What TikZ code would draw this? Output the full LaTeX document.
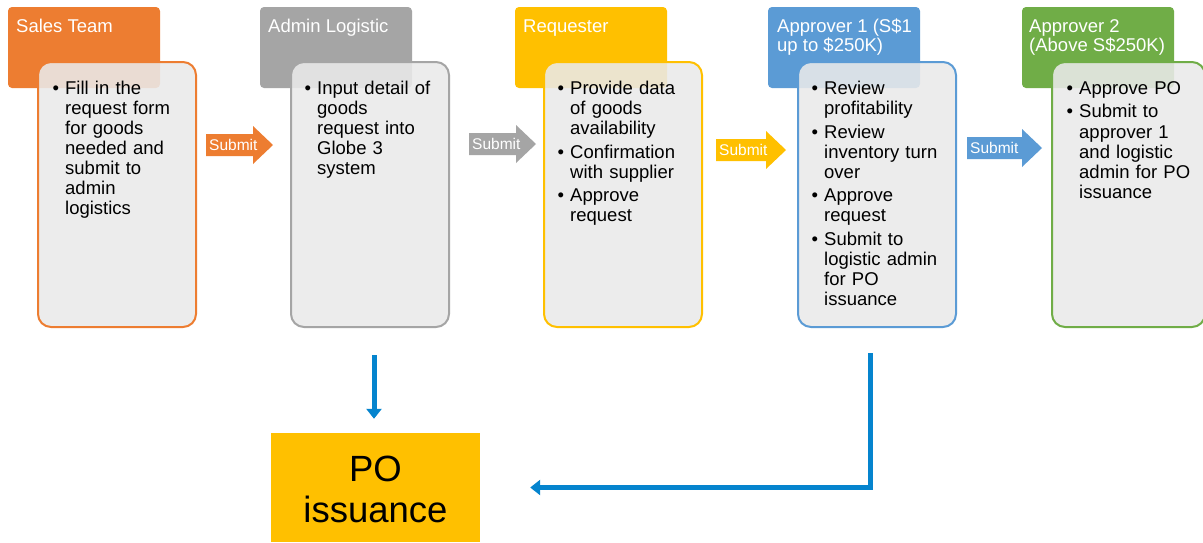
\documentclass[tikz,border=0pt]{standalone}
\usepackage{fontspec}
\setmainfont{Liberation Sans}
\usetikzlibrary{arrows.meta}
\definecolor{cOrange}{HTML}{ED7D31}
\definecolor{cGray}{HTML}{A5A5A5}
\definecolor{cGold}{HTML}{FFC000}
\definecolor{cBlue}{HTML}{5B9BD5}
\definecolor{cGreen}{HTML}{70AD47}
\definecolor{bodyGray}{HTML}{EAEAEA}
\definecolor{connBlue}{HTML}{0584CE}
\newcommand\bitem[1]{\par\noindent\hangindent=12.5pt\hangafter=1\rule{0pt}{14pt}\makebox[12.5pt][l]{\textbullet}#1\par}
\newcommand\igap{\vskip3.5pt}
\newcommand\sarrow[5]{%
  \fill[#5] (#2,#4-11) -- (#3-20,#4-11) -- (#3-20,#4-19) -- (#3,#4) -- (#3-20,#4+19) -- (#3-20,#4+11) -- (#2,#4+11) -- cycle;
  \node[stext] (#1) at (#2+3,#4) {Submit};}
\begin{document}
\begin{tikzpicture}[x=1pt,y=-1pt,
  headbox/.style={fill=#1, rounded corners=4pt, minimum width=152pt, minimum height=81pt, inner sep=0pt},
  bodybox/.style={draw=#1, line width=2pt, fill=bodyGray, fill opacity=0.88, rounded corners=13pt, minimum width=158pt, minimum height=265pt, inner sep=0pt},
  htext/.style={anchor=north west, inner sep=0pt, text=white, font=\fontsize{18.5}{19}\selectfont, align=left},
  btext/.style={anchor=north west, inner sep=0pt, text width=150pt, font=\fontsize{18.5}{20.1}\selectfont},
  stext/.style={anchor=west, inner sep=0pt, text=white, font=\fontsize{15.5}{17}\selectfont},
  conn/.style={draw=connBlue, line width=5pt, -{Triangle[width=15pt,length=10pt]}}]
\path[use as bounding box, fill=white] (0,0) rectangle (1203,542);
\clip (0,0) rectangle (1203,542);
% headers
\node[headbox=cOrange] (h1) at (84,47.5) {};
\node[headbox=cGray]   (h2) at (336,47.5) {};
\node[headbox=cGold]   (h3) at (591,47.5) {};
\node[headbox=cBlue]   (h4) at (844,47.5) {};
\node[headbox=cGreen]  (h5) at (1098,47.5) {};
\node[htext] (ht1) at (16,18) {\rule{0pt}{14pt}Sales Team};
\node[htext] (ht2) at (268,18) {\rule{0pt}{14pt}Admin Logistic};
\node[htext] (ht3) at (523,18) {\rule{0pt}{14pt}Requester};
\node[htext] (ht4) at (777,18) {\rule{0pt}{14pt}Approver 1 (S\$1\\up to \$250K)};
\node[htext] (ht5) at (1029,18) {\rule{0pt}{14pt}Approver 2\\(Above S\$250K)};
% bodies
\node[bodybox=cOrange] (b1) at (117,194.5) {};
\node[bodybox=cGray]   (b2) at (370,194.5) {};
\node[bodybox=cGold]   (b3) at (623,194.5) {};
\node[bodybox=cBlue]   (b4) at (877,194.5) {};
\node[bodybox=cGreen, minimum width=153pt] (b5) at (1128.5,194.5) {};
\node[btext] (t1) at (52.5,74) {\bitem{Fill in the\newline request form\newline for goods\newline needed and\newline submit to\newline admin\newline logistics}};
\node[btext] (t2) at (304.5,74) {\bitem{Input detail of\newline goods\newline request into\newline Globe 3\newline system}};
\node[btext] (t3) at (557.5,74) {\bitem{Provide data\newline of goods\newline availability}\igap\bitem{Confirmation\newline with supplier}\igap\bitem{Approve\newline request}};
\node[btext] (t4) at (811.5,74) {\bitem{Review\newline profitability}\igap\bitem{Review\newline inventory turn\newline over}\igap\bitem{Approve\newline request}\igap\bitem{Submit to\newline logistic admin\newline for PO\newline issuance}};
\node[btext] (t5) at (1066.5,74) {\bitem{Approve PO}\igap\bitem{Submit to\newline approver 1\newline and logistic\newline admin for PO\newline issuance}};
% submit arrows
\sarrow{s1}{206}{273}{145}{cOrange}
\sarrow{s2}{469}{536}{144}{cGray}
\sarrow{s3}{716}{786}{150}{cGold}
\sarrow{s4}{967}{1042}{148}{cBlue}
% PO issuance
\node[fill=cGold, minimum width=209pt, minimum height=109pt, inner sep=0pt] (po) at (375.5,487.5) {};
\node[align=center, inner sep=0pt, font=\fontsize{36.5}{41}\selectfont] (potext) at (375.5,489) {PO\\issuance};
% connectors
\coordinate (d1) at (374,355);
\coordinate (d2) at (870,353);
\draw[conn, shorten >=14pt] (d1) -- (d1 |- po.north);
\draw[conn, shorten >=50pt] (d2) |- (po.east);
\end{tikzpicture}
\end{document}
